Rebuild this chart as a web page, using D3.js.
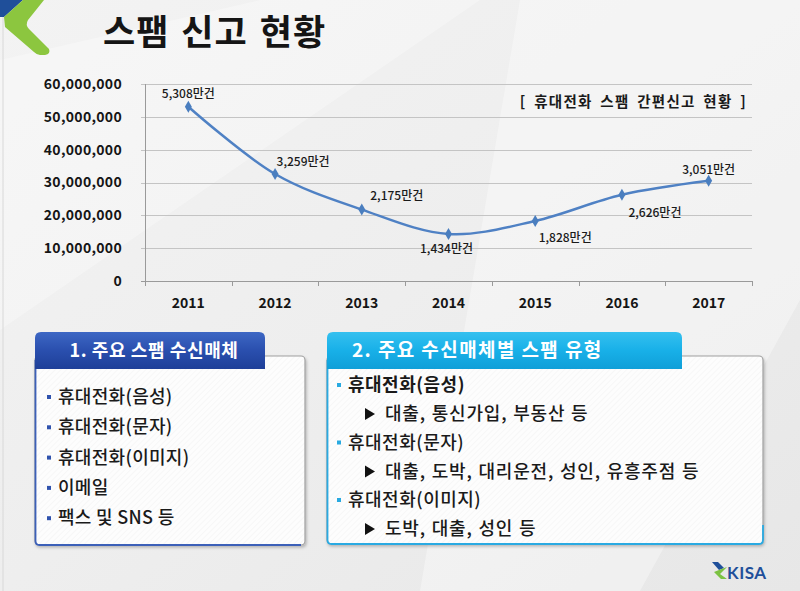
<!DOCTYPE html>
<html>
<head>
<meta charset="utf-8">
<script src="https://cdn.jsdelivr.net/npm/d3@7"></script>
<style>
  body { margin: 0; background: #fff; }
  svg { display: block; font-family: "Noto Sans CJK KR", "Noto Sans", sans-serif; }
</style>
</head>
<body>
<div id="chart"></div>
<script>
(function () {
  'use strict';

  // chart data
  var years = ['2011', '2012', '2013', '2014', '2015', '2016', '2017'];
  var reports = [53080000, 32590000, 21750000, 14340000, 18280000, 26260000, 30510000];
  var reportLabels = ['5,308만건', '3,259만건', '2,175만건', '1,434만건', '1,828만건', '2,626만건', '3,051만건'];
  var yTicks = [0, 10000000, 20000000, 30000000, 40000000, 50000000, 60000000];

  // text boxes
  var mediaItems = ['휴대전화(음성)', '휴대전화(문자)', '휴대전화(이미지)', '이메일', '팩스 및 SNS 등'];
  var typeItems = ['휴대전화(음성)', '휴대전화(문자)', '휴대전화(이미지)'];
  var typeDetails = ['대출, 통신가입, 부동산 등', '대출, 도박, 대리운전, 성인, 유흥주점 등', '도박, 대출, 성인 등'];

  // where each value label sits relative to its point
  var labelOffsets = [[0, -9], [28, -8], [35, -10], [-2, 19], [30, 21], [33, 22], [0, -7]];

  var width = 800, height = 591;

  var svg = d3.select('#chart').append('svg')
    .attr('width', width)
    .attr('height', height);

  var defs = svg.append('defs');

  var bg = defs.append('linearGradient').attr('id', 'bg')
    .attr('x1', 0).attr('y1', 0).attr('x2', 1).attr('y2', 1);
  bg.append('stop').attr('offset', 0).attr('stop-color', '#f3f3f3');
  bg.append('stop').attr('offset', 0.5).attr('stop-color', '#eeeeee');
  bg.append('stop').attr('offset', 1).attr('stop-color', '#e7e7e7');

  var tab1 = defs.append('linearGradient').attr('id', 'tab1')
    .attr('x1', 0).attr('y1', 0).attr('x2', 0).attr('y2', 1);
  tab1.append('stop').attr('offset', 0).attr('stop-color', '#3d67c4');
  tab1.append('stop').attr('offset', 0.5).attr('stop-color', '#2a4fae');
  tab1.append('stop').attr('offset', 1).attr('stop-color', '#1e3f98');

  var tab2 = defs.append('linearGradient').attr('id', 'tab2')
    .attr('x1', 0).attr('y1', 0).attr('x2', 0).attr('y2', 1);
  tab2.append('stop').attr('offset', 0).attr('stop-color', '#35c0ef');
  tab2.append('stop').attr('offset', 0.5).attr('stop-color', '#18b0e8');
  tab2.append('stop').attr('offset', 1).attr('stop-color', '#0f9fd8');

  var hatch = defs.append('pattern').attr('id', 'hatch')
    .attr('width', 4).attr('height', 4)
    .attr('patternUnits', 'userSpaceOnUse')
    .attr('patternTransform', 'rotate(45)');
  hatch.append('rect').attr('width', 4).attr('height', 4).attr('fill', '#fdfdfd');
  hatch.append('line').attr('x1', 0).attr('x2', 0).attr('y1', 0).attr('y2', 4)
    .attr('stroke', '#f1f1f1').attr('stroke-width', 1);

  var shadow = defs.append('filter').attr('id', 'shadow')
    .attr('x', -0.05).attr('y', -0.05).attr('width', 1.1).attr('height', 1.15);
  shadow.append('feDropShadow')
    .attr('dx', 1).attr('dy', 2).attr('stdDeviation', 1.5)
    .attr('flood-color', '#000').attr('flood-opacity', 0.25);

  // background
  svg.append('rect').attr('width', width).attr('height', height).attr('fill', 'url(#bg)');
  svg.append('path')
    .attr('d', 'M520,0 L800,0 L800,300 L640,591 L420,591 Z')
    .attr('fill', '#fff').attr('opacity', 0.35);
  svg.append('path')
    .attr('d', 'M0,60 L260,0 L480,0 L0,330 Z')
    .attr('fill', '#fff').attr('opacity', 0.3);
  svg.append('line')
    .attr('x1', 3).attr('x2', 3).attr('y1', 0).attr('y2', height)
    .attr('stroke', '#d8d8d8');

  // corner logo
  svg.append('path')
    .attr('d', 'M0,0 L23,0 L4,17 L0,17 Z')
    .attr('fill', '#1f4f9a');
  svg.append('path')
    .attr('d', 'M23,0 L44,0 L28,20 Q25,25 29,29 L49,49 Q51,54 45,55 L40,55 Q37,55 34,52 L5,27 L4,17 Z')
    .attr('fill', '#8cc63f');

  // title
  svg.append('text')
    .attr('x', 103).attr('y', 45)
    .attr('font-size', 35).attr('font-weight', 700)
    .attr('letter-spacing', 1)
    .attr('word-spacing', 3)
    .attr('fill', '#151515')
    .text('스팸 신고 현황');

  // line chart
  var plot = {left: 145, right: 752, top: 84, bottom: 281};

  var x = d3.scaleBand().domain(years).range([plot.left, plot.right]);
  var y = d3.scaleLinear().domain([0, 60000000]).range([plot.bottom, plot.top]);

  var chart = svg.append('g');

  chart.append('g')
    .selectAll('line')
    .data(yTicks)
    .enter()
    .append('line')
    .attr('x1', plot.left - 4)
    .attr('x2', plot.right)
    .attr('y1', function (d) { return Math.round(y(d)) + 0.5; })
    .attr('y2', function (d) { return Math.round(y(d)) + 0.5; })
    .attr('stroke', function (d) { return d === 0 ? '#9a9a9a' : '#c4c4c4'; });

  chart.append('line')
    .attr('x1', plot.left + 0.5).attr('x2', plot.left + 0.5)
    .attr('y1', plot.top).attr('y2', plot.bottom)
    .attr('stroke', '#9a9a9a');

  var xAxis = d3.axisBottom(x).tickSize(0).tickPadding(17);
  var xg = chart.append('g')
    .attr('transform', 'translate(0,' + plot.bottom + ')')
    .call(xAxis);
  xg.select('.domain').remove();
  xg.selectAll('text')
    .attr('font-size', 14).attr('font-weight', 700)
    .attr('fill', '#151515')
    .style('font-family', '"Noto Sans CJK KR", sans-serif');

  // category separators on the x axis
  chart.append('g')
    .selectAll('line')
    .data(years.concat(['end']))
    .enter()
    .append('line')
    .attr('x1', function (d, i) { return Math.round(i < years.length ? x(d) : x.range()[1]) + 0.5; })
    .attr('x2', function (d, i) { return Math.round(i < years.length ? x(d) : x.range()[1]) + 0.5; })
    .attr('y1', plot.bottom).attr('y2', plot.bottom + 5)
    .attr('stroke', '#9a9a9a');

  var yAxis = d3.axisLeft(y).tickValues(yTicks).tickSize(0).tickPadding(23)
    .tickFormat(d3.format(','));
  var yg = chart.append('g')
    .attr('transform', 'translate(' + plot.left + ',0)')
    .call(yAxis);
  yg.select('.domain').remove();
  yg.selectAll('text')
    .attr('font-size', 14).attr('font-weight', 700)
    .attr('letter-spacing', 0.3)
    .attr('fill', '#151515')
    .style('font-family', '"Noto Sans CJK KR", sans-serif');

  function px(i) { return x(years[i]) + x.bandwidth() / 2; }

  var line = d3.line()
    .x(function (d, i) { return px(i); })
    .y(function (d) { return y(d); })
    .curve(d3.curveCatmullRom.alpha(0.5));

  chart.append('path')
    .datum(reports)
    .attr('d', line)
    .attr('fill', 'none')
    .attr('stroke', '#4f81c4')
    .attr('stroke-width', 2.5);

  chart.append('g')
    .selectAll('path')
    .data(reports)
    .enter()
    .append('path')
    .attr('d', d3.symbol().type(d3.symbolDiamond).size(42))
    .attr('transform', function (d, i) { return 'translate(' + px(i) + ',' + y(d) + ')'; })
    .attr('fill', '#4a7ebf');

  chart.append('g')
    .selectAll('text')
    .data(reports)
    .enter()
    .append('text')
    .attr('x', function (d, i) { return px(i) + labelOffsets[i][0]; })
    .attr('y', function (d, i) { return y(d) + labelOffsets[i][1]; })
    .attr('text-anchor', 'middle')
    .attr('font-size', 12).attr('font-weight', 500)
    .attr('fill', '#1a1a1a')
    .text(function (d, i) { return reportLabels[i]; });

  chart.append('text')
    .attr('x', 747).attr('y', 107)
    .attr('text-anchor', 'end')
    .attr('font-size', 14.5).attr('font-weight', 700)
    .attr('fill', '#1a1a1a')
    .attr('letter-spacing', 1.3)
    .attr('word-spacing', 3)
    .text('[ 휴대전화 스팸 간편신고 현황 ]');

  // box 1
  var box1 = svg.append('g');
  box1.append('rect')
    .attr('x', 35).attr('y', 356).attr('width', 270).attr('height', 189)
    .attr('rx', 4)
    .attr('fill', 'url(#hatch)').attr('stroke', '#a0a0a0').attr('stroke-width', 1.2)
    .attr('filter', 'url(#shadow)');
  box1.append('path')
    .attr('d', 'M35.5,360 L35.5,541 Q35.5,545 39.5,545 L301,545')
    .attr('fill', 'none').attr('stroke', '#3c60b8').attr('stroke-width', 1.8);
  box1.append('path')
    .attr('d', 'M35,369 L35,338 Q35,332 41,332 L259,332 Q265,332 265,338 L265,369 Z')
    .attr('fill', 'url(#tab1)');
  box1.append('text')
    .attr('x', 154).attr('y', 357)
    .attr('text-anchor', 'middle')
    .attr('font-size', 18).attr('font-weight', 700)
    .attr('letter-spacing', 0.6)
    .attr('fill', '#fff')
    .text('1. 주요 스팸 수신매체');

  var m = box1.selectAll('.item')
    .data(mediaItems)
    .enter()
    .append('g')
    .attr('class', 'item')
    .attr('transform', function (d, i) { return 'translate(0,' + (397 + i * 30.3) + ')'; });
  m.append('rect')
    .attr('x', 47).attr('y', -2).attr('width', 4).attr('height', 4)
    .attr('fill', '#2f52ad');
  m.append('text')
    .attr('x', 58).attr('y', 6)
    .attr('font-size', 18).attr('font-weight', 500)
    .attr('letter-spacing', 0.3)
    .attr('fill', '#1a1a1a')
    .text(function (d) { return d; });

  // box 2
  var box2 = svg.append('g');
  box2.append('rect')
    .attr('x', 327).attr('y', 356).attr('width', 436).attr('height', 188)
    .attr('rx', 4)
    .attr('fill', 'url(#hatch)').attr('stroke', '#a0a0a0').attr('stroke-width', 1.2)
    .attr('filter', 'url(#shadow)');
  box2.append('path')
    .attr('d', 'M327.5,360 L327.5,540 Q327.5,544 331.5,544 L759,544 Q763,544 763,540 L763,525')
    .attr('fill', 'none').attr('stroke', '#2aaae2').attr('stroke-width', 1.8);
  box2.append('path')
    .attr('d', 'M327,369 L327,338 Q327,332 333,332 L676,332 Q682,332 682,338 L682,369 Z')
    .attr('fill', 'url(#tab2)');
  box2.append('text')
    .attr('x', 352).attr('y', 357)
    .attr('font-size', 19).attr('font-weight', 700)
    .attr('letter-spacing', 1.4)
    .attr('fill', '#fff')
    .text('2. 주요 수신매체별 스팸 유형');

  var t = box2.selectAll('.item')
    .data(typeItems)
    .enter()
    .append('g')
    .attr('class', 'item')
    .attr('transform', function (d, i) { return 'translate(0,' + (385 + i * 57.5) + ')'; });
  t.append('rect')
    .attr('x', 337).attr('y', -2).attr('width', 4).attr('height', 4)
    .attr('fill', '#29aae1');
  t.append('text')
    .attr('x', 348).attr('y', 6)
    .attr('font-size', 18).attr('font-weight', function (d, i) { return i === 0 ? 700 : 500; })
    .attr('letter-spacing', 0.5)
    .attr('fill', '#1a1a1a')
    .text(function (d) { return d; });
  t.append('path')
    .attr('d', 'M365,23 L375,29 L365,35 Z')
    .attr('fill', '#111');
  t.append('text')
    .attr('x', 385).attr('y', 35)
    .attr('font-size', 18).attr('font-weight', 500)
    .attr('letter-spacing', 0.8)
    .attr('word-spacing', 1)
    .attr('fill', '#1a1a1a')
    .text(function (d, i) { return typeDetails[i]; });

  // KISA logo
  var logo = svg.append('g');
  logo.append('path')
    .attr('d', 'M712,562 L718,562 L724,568 L719,570 Z')
    .attr('fill', '#1f4f9a');
  logo.append('path')
    .attr('d', 'M719,570 L727,567 L720,574 L727,579 L721,579 L714,572 Z')
    .attr('fill', '#7cc242');
  logo.append('text')
    .attr('x', 727).attr('y', 579)
    .attr('font-size', 17).attr('font-weight', 700)
    .attr('fill', '#1f4f9a')
    .attr('letter-spacing', 0.5)
    .style('font-family', 'Lato, "Noto Sans", sans-serif')
    .text('KISA');
}());
</script>
</body>
</html>
